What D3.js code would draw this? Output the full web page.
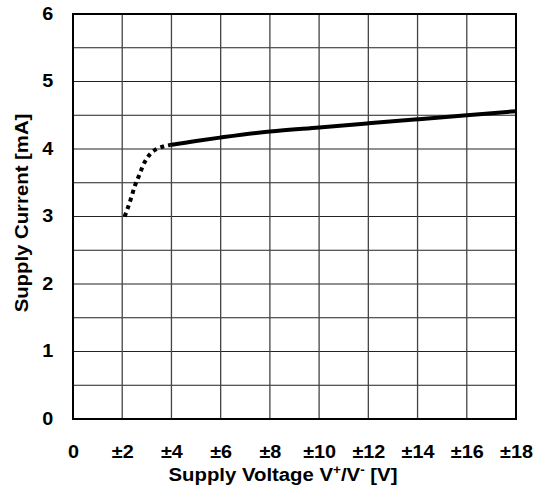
<!DOCTYPE html>
<html>
<head>
<meta charset="utf-8">
<script src="https://cdn.jsdelivr.net/npm/d3@7"></script>
<style>
  html, body { margin: 0; padding: 0; background: #fff; }
  svg text { font-family: "Liberation Sans", Arial, sans-serif; font-weight: bold; fill: #000; }
</style>
</head>
<body>
<svg id="chart" width="544" height="490"></svg>
<script>
// Supply current vs. supply voltage
const xTicks = [0, 2, 4, 6, 8, 10, 12, 14, 16, 18];
const xTickLabels = ["0", "±2", "±4", "±6", "±8", "±10", "±12", "±14", "±16", "±18"];
const yTicks = [0, 1, 2, 3, 4, 5, 6];
const yGrid = [0.5, 1, 1.5, 2, 2.5, 3, 3.5, 4, 4.5, 5, 5.5];

// low-voltage region (dotted)
const lowV = [2.1, 2.2, 2.35, 2.5, 2.7, 2.85, 3.0, 3.2, 3.4, 3.7, 3.95];
const lowI = [3.0, 3.1, 3.26, 3.44, 3.62, 3.76, 3.86, 3.95, 4.0, 4.04, 4.06];
// operating region (solid)
const opV = [3.95, 5, 6, 8, 10, 12, 14, 16, 18];
const opI = [4.06, 4.12, 4.17, 4.26, 4.32, 4.38, 4.44, 4.50, 4.56];

const svg = d3.select("#chart");
const m = { left: 73, right: 516, top: 14, bottom: 419 };
const stretch = "scale(1.1,1)";

const x = d3.scaleLinear().domain([0, 18]).range([m.left, m.right]);
const y = d3.scaleLinear().domain([0, 6]).range([m.bottom, m.top]);

// grid
const grid = svg.append("g");
grid.selectAll("line.h").data(yGrid).join("line")
  .attr("x1", m.left).attr("x2", m.right)
  .attr("y1", d => y(d)).attr("y2", d => y(d))
  .attr("stroke", "#222").attr("stroke-width", 1);
grid.selectAll("line.v").data(xTicks.slice(1, -1)).join("line")
  .attr("x1", d => x(d)).attr("x2", d => x(d))
  .attr("y1", m.top).attr("y2", m.bottom)
  .attr("stroke", "#444").attr("stroke-width", 1.3);

// frame
svg.append("rect")
  .attr("x", m.left).attr("y", m.top)
  .attr("width", m.right - m.left).attr("height", m.bottom - m.top)
  .attr("fill", "none").attr("stroke", "#000").attr("stroke-width", 2);

// axes (labels only)
const xAxis = d3.axisBottom(x).tickValues(xTicks)
  .tickFormat((d, i) => xTickLabels[i]).tickSize(0).tickPadding(26);
const gx = svg.append("g").attr("transform", `translate(0,${m.bottom})`).call(xAxis);
gx.select(".domain").remove();
gx.selectAll("text").style("font-size", "18px").attr("fill", "#000")
  .attr("transform", stretch);

const yAxis = d3.axisLeft(y).tickValues(yTicks).tickFormat(d3.format("d"))
  .tickSize(0).tickPadding(18);
const gy = svg.append("g").attr("transform", `translate(${m.left},0)`).call(yAxis);
gy.select(".domain").remove();
gy.selectAll("text").style("font-size", "18px").attr("fill", "#000")
  .attr("dy", "0.28em").attr("transform", stretch);

// curves
const line = d3.line().x(d => x(d[0])).y(d => y(d[1])).curve(d3.curveMonotoneX);
svg.append("path")
  .datum(lowV.map((v, i) => [v, lowI[i]]))
  .attr("d", line)
  .attr("fill", "none").attr("stroke", "#000")
  .attr("stroke-width", 4).attr("stroke-dasharray", "4,4");
svg.append("path")
  .datum(opV.map((v, i) => [v, opI[i]]))
  .attr("d", line)
  .attr("fill", "none").attr("stroke", "#000").attr("stroke-width", 4);

// axis titles
const xt = svg.append("text")
  .attr("transform", `translate(283,481) scale(1.13,1)`)
  .attr("text-anchor", "middle").style("font-size", "18px");
xt.append("tspan").text("Supply Voltage V");
xt.append("tspan").text("+").attr("dy", -7).style("font-size", "12px");
xt.append("tspan").text("/V").attr("dy", 7);
xt.append("tspan").text("-").attr("dy", -7).style("font-size", "12px");
xt.append("tspan").text(" [V]").attr("dy", 7);

svg.append("text")
  .attr("transform", `translate(28,213) rotate(-90) scale(1.13,1)`)
  .attr("text-anchor", "middle").style("font-size", "18px")
  .text("Supply Current [mA]");
</script>
</body>
</html>
